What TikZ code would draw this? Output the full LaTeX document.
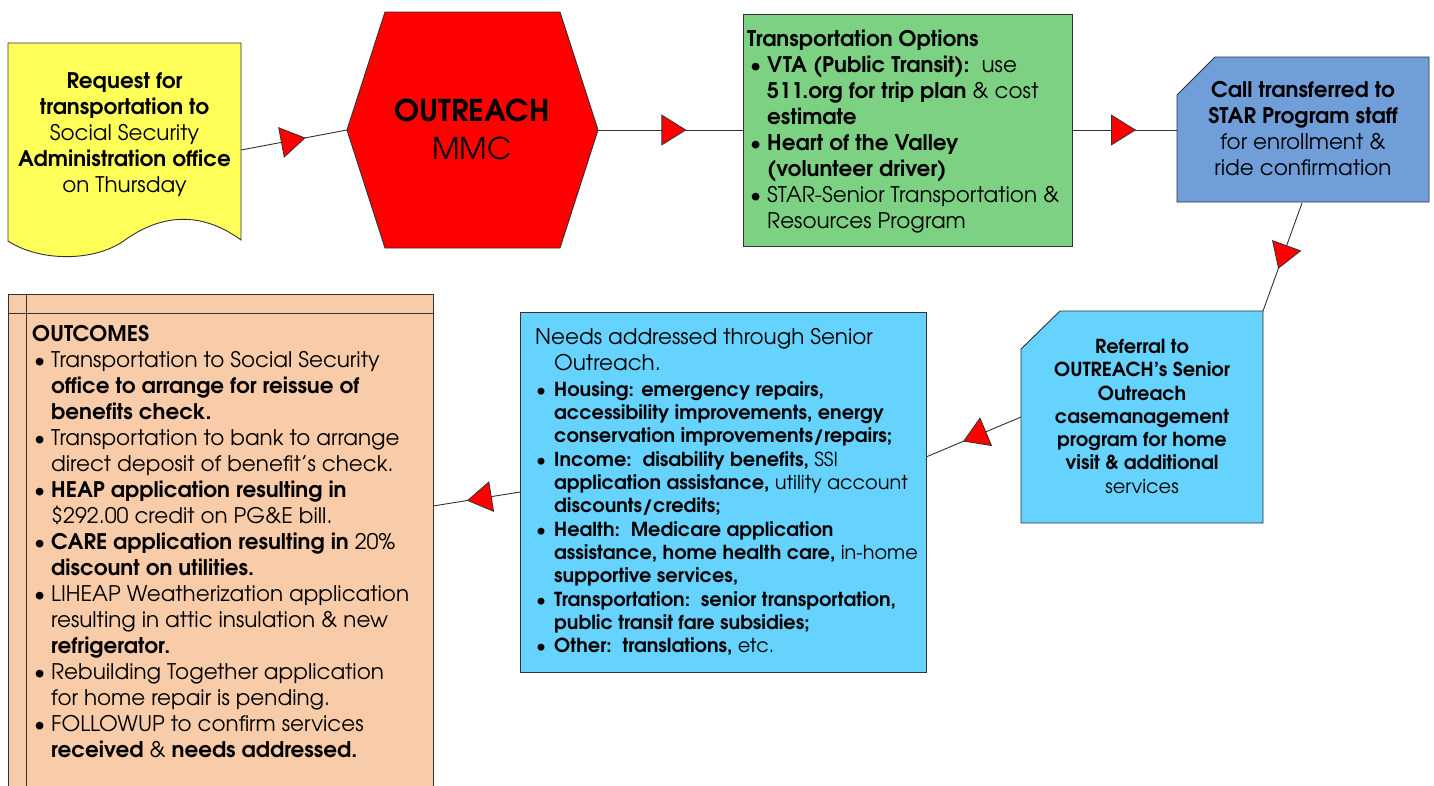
\documentclass[tikz,border=0pt]{standalone}
\usepackage{fontspec}
\setmainfont{TeX Gyre Adventor}
\usetikzlibrary{arrows.meta,decorations.markings}
\definecolor{yelfill}{RGB}{255,255,90}
\definecolor{hexred}{RGB}{255,0,0}
\definecolor{grnfill}{RGB}{125,209,131}
\definecolor{bluefill}{RGB}{112,158,217}
\definecolor{cyanfill}{RGB}{102,211,255}
\definecolor{peachfill}{RGB}{248,204,168}
\definecolor{edgecol}{RGB}{50,50,50}
\newcommand\BL[2]{\hspace*{#1}\makebox[#2][l]{•}}
\newcommand\CL[1]{\hspace*{#1}}
\newcommand\headfont{\fontsize{21.5}{26}\selectfont}
\tikzset{
  outline/.style={draw=edgecol, line width=0.9pt},
  conn/.style={draw=edgecol, line width=0.9pt, postaction={decorate},
    decoration={markings, mark=at position 0.61 with
      {\arrow{Triangle[length=25pt,width=31pt,fill=hexred,line width=0.8pt]}}}},
  bigtxt/.style={inner sep=0pt, font=\fontsize{21.5}{26}\selectfont},
  midtxt/.style={inner sep=0pt, font=\fontsize{19.3}{23.3}\selectfont},
  hextxt/.style={inner sep=0pt, font=\fontsize{30}{38}\selectfont, align=center},
}
\begin{document}
\begin{tikzpicture}[x=1pt,y=-1pt]
\useasboundingbox (0,0) rectangle (1434,785);
\fill[white] (0,0) rectangle (1434,785);

% connector end points
\coordinate (yelE) at (241,150);
\coordinate (hexW) at (347,130);
\coordinate (hexE) at (598,130);
\coordinate (grnW) at (743,130);
\coordinate (grnE) at (1072,130);
\coordinate (bluW) at (1177,130);
\coordinate (bluS) at (1302,203);
\coordinate (cyaN) at (1263,311);
\coordinate (cyaW) at (1021,417);
\coordinate (recE) at (926,457);
\coordinate (recW) at (520,492);
\coordinate (pchE) at (433,506);

% shapes
\draw[outline, fill=yelfill] (8,43) -- (241,43) -- (241,240)
  .. controls (200,210) and (160,215) .. (125,240)
  .. controls (95,262) and (40,262) .. (8,241) -- cycle;
\draw[outline, fill=hexred] (385,12) -- (560,12) -- (598,130) -- (560,248)
  -- (385,248) -- (347,130) -- cycle;
\draw[outline, fill=grnfill] (743,14) rectangle (1072,246);
\draw[outline, fill=bluefill] (1215,57) -- (1429,57) -- (1429,202) -- (1177,202)
  -- (1177,95) -- cycle;
\draw[outline, fill=cyanfill] (1060,311) -- (1263,311) -- (1263,523) -- (1021,523)
  -- (1021,349) -- cycle;
\draw[outline, fill=cyanfill] (520,312) rectangle (926,672);
\fill[peachfill] (8,294) rectangle (433,786);
\draw[outline] (8,786) -- (8,294) -- (433,294) -- (433,786);
\draw[outline] (26,294) -- (26,786);
\draw[outline] (8,313) -- (433,313);

% connectors
\draw[conn] (yelE) -- (hexW);
\draw[conn] (hexE) -- (grnW);
\draw[conn] (grnE) -- (bluW);
\draw[conn] (bluS) -- (cyaN);
\draw[conn] (cyaW) -- (recE);
\draw[conn] (recW) -- (pchE);

% texts
\node[bigtxt, align=center, anchor=north] (request) at (124.5,72)
  {\textbf{Request for}\\ \textbf{transportation to}\\ Social Security\\
   \textbf{Administration office}\\ on Thursday};
\node[hextxt, anchor=north] (outreach) at (472,98.5)
  {\textbf{OUTREACH}\\ MMC};
\node[bigtxt, align=left, anchor=north west] (options) at (747,30)
  {\textbf{Transportation Options}\\
   \BL{3pt}{17pt}\textbf{VTA (Public Transit):}\ \ use\\
   \CL{20pt}\textbf{511.org for trip plan} \& cost\\
   \CL{20pt}\textbf{estimate}\\
   \BL{3pt}{17pt}\textbf{Heart of the Valley}\\
   \CL{20pt}\textbf{(volunteer driver)}\\
   \BL{3pt}{17pt}STAR-Senior Transportation \&\\
   \CL{20pt}Resources Program};
\node[bigtxt, align=center, anchor=north] (call) at (1303,81.5)
  {\textbf{Call transferred to}\\ \textbf{STAR Program staff}\\
   for enrollment \&\\ ride confirmation};
\node[midtxt, align=center, anchor=north] (referral) at (1142,339)
  {\textbf{Referral to}\\ \textbf{OUTREACH’s Senior}\\ \textbf{Outreach}\\
   \textbf{casemanagement}\\ \textbf{program for home}\\
   \textbf{visit \& additional}\\ services};
\node[midtxt, align=left, anchor=north west] (needs) at (535,328)
  {{\headfont Needs addressed through Senior}\\[2.7pt]
   {\headfont\CL{19pt}Outreach.}\\[2.7pt]
   \BL{1pt}{18pt}\textbf{Housing: emergency repairs,}\\
   \CL{19pt}\textbf{accessibility improvements, energy}\\
   \CL{19pt}\textbf{conservation improvements/repairs;}\\
   \BL{1pt}{18pt}\textbf{Income:\ \ disability benefits,} SSI\\
   \CL{19pt}\textbf{application assistance,} utility account\\
   \CL{19pt}\textbf{discounts/credits;}\\
   \BL{1pt}{18pt}\textbf{Health:\ \ Medicare application}\\
   \CL{19pt}\textbf{assistance, home health care,} in-home\\
   \CL{19pt}\textbf{supportive services,}\\
   \BL{1pt}{18pt}\textbf{Transportation:\ \ senior transportation,}\\
   \CL{19pt}\textbf{public transit fare subsidies;}\\
   \BL{1pt}{18pt}\textbf{Other:\ \ translations,} etc.};
\node[bigtxt, align=left, anchor=north west] (outcomes) at (32,325)
  {\textbf{OUTCOMES}\\
   \BL{2pt}{17pt}Transportation to Social Security\\
   \CL{19pt}\textbf{office to arrange for reissue of}\\
   \CL{19pt}\textbf{benefits check.}\\
   \BL{2pt}{17pt}Transportation to bank to arrange\\
   \CL{19pt}direct deposit of benefit’s check.\\
   \BL{2pt}{17pt}\textbf{HEAP application resulting in}\\
   \CL{19pt}\$292.00 credit on PG\&E bill.\\
   \BL{2pt}{17pt}\textbf{CARE application resulting in} 20\%\\
   \CL{19pt}\textbf{discount on utilities.}\\
   \BL{2pt}{17pt}LIHEAP Weatherization application\\
   \CL{19pt}resulting in attic insulation \& new\\
   \CL{19pt}\textbf{refrigerator.}\\
   \BL{2pt}{17pt}Rebuilding Together application\\
   \CL{19pt}for home repair is pending.\\
   \BL{2pt}{17pt}FOLLOWUP to confirm services\\
   \CL{19pt}\textbf{received} \& \textbf{needs addressed.}};
\end{tikzpicture}
\end{document}
